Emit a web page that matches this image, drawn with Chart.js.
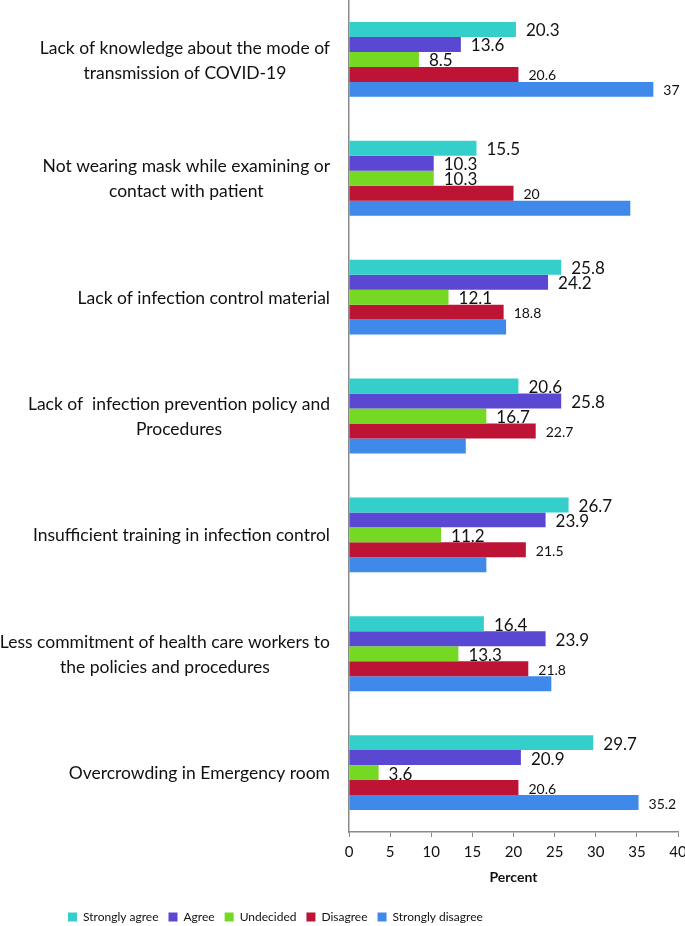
<!DOCTYPE html>
<html>
<head>
<meta charset="utf-8">
<title>Barriers to infection control</title>
<script src="https://cdn.jsdelivr.net/npm/chart.js@4/dist/chart.umd.min.js"></script>
<style>
  html, body { margin: 0; padding: 0; background: #fff; }
  #wrap { width: 685px; height: 926px; }
</style>
</head>
<body>
<div id="wrap"><canvas id="barChart"></canvas></div>
<script>
// categories (multi-line labels as in the figure)
const categories = [
  ['Lack of knowledge about the mode of', 'transmission of COVID-19'],
  ['Not wearing mask while examining or', 'contact with patient'],
  ['Lack of infection control material'],
  ['Lack of  infection prevention policy and', 'Procedures'],
  ['Insufficient training in infection control'],
  ['Less commitment of health care workers to', 'the policies and procedures'],
  ['Overcrowding in Emergency room']
];

const seriesNames = ['Strongly agree', 'Agree', 'Undecided', 'Disagree', 'Strongly disagree'];

// values (percent)
const stronglyAgree = [20.3, 15.5, 25.8, 20.6, 26.7, 16.4, 29.7];
const agree = [13.6, 10.3, 24.2, 25.8, 23.9, 23.9, 20.9];
const undecided = [8.5, 10.3, 12.1, 16.7, 11.2, 13.3, 3.6];
const disagree = [20.6, 20, 18.8, 22.7, 21.5, 21.8, 20.6];
const stronglyDisagree = [37, 34.2, 19.1, 14.2, 16.7, 24.6, 35.2];

// which bars carry a printed value (the figure leaves some unlabeled)
const showLabel = [
  [true, true, true, true, true, true, true],
  [true, true, true, true, true, true, true],
  [true, true, true, true, true, true, true],
  [true, true, true, true, true, true, true],
  [true, false, false, false, false, false, true]
];

const xTicks = [0, 5, 10, 15, 20, 25, 30, 35, 40];

const colors = ['#35CFCB', '#5A47D2', '#75D823', '#BD1335', '#3E89EA'];
const labelSizes = [17, 17, 17, 14, 14];
const FONT = 'Lato, "Open Sans", sans-serif';

// draws the value text right of each bar
const valueLabels = {
  id: 'valueLabels',
  afterDatasetsDraw(chart) {
    const ctx = chart.ctx;
    ctx.save();
    ctx.fillStyle = '#111';
    ctx.textAlign = 'left';
    ctx.textBaseline = 'middle';
    chart.data.datasets.forEach((ds, i) => {
      const meta = chart.getDatasetMeta(i);
      ctx.font = labelSizes[i] + 'px ' + FONT;
      meta.data.forEach((bar, j) => {
        if (!showLabel[i][j]) return;
        ctx.fillText(String(ds.data[j]), bar.x + 10, bar.y + 1.5);
      });
    });
    ctx.restore();
  }
};

// category labels: block right-aligned to the axis, lines centred inside the block (Excel style)
const categoryLabels = {
  id: 'categoryLabels',
  afterDraw(chart) {
    const ctx = chart.ctx;
    const yScale = chart.scales.y;
    const right = yScale.right - 19;
    const lineH = 25;
    ctx.save();
    ctx.fillStyle = '#111';
    ctx.font = '17.5px ' + FONT;
    ctx.textAlign = 'center';
    ctx.textBaseline = 'middle';
    chart.data.labels.forEach((lines, i) => {
      const y = yScale.getPixelForValue(i);
      const w = Math.max(...lines.map(t => ctx.measureText(t).width));
      const cx = right - w / 2;
      lines.forEach((t, k) => {
        ctx.fillText(t, cx, y + (k - (lines.length - 1) / 2) * lineH + 1);
      });
    });
    ctx.restore();
  }
};

// legend in the figure sits left of centre and a little lower
const legendShift = {
  id: 'legendShift',
  afterLayout(chart) {
    chart.legend.left = 58;
    chart.legend.top += 7;
    chart.legend.bottom += 7;
  }
};

const allSeries = [stronglyAgree, agree, undecided, disagree, stronglyDisagree];

const ctx = document.getElementById('barChart').getContext('2d');
new Chart(ctx, {
  type: 'bar',
  data: {
    labels: categories,
    datasets: seriesNames.map((name, i) => ({
      label: name,
      data: allSeries[i],
      backgroundColor: colors[i],
      borderWidth: 0,
      categoryPercentage: 0.63,
      barPercentage: 1.0
    }))
  },
  options: {
    indexAxis: 'y',
    responsive: true,
    maintainAspectRatio: false,
    animation: false,
    layout: {
      padding: { left: 0, right: 0, top: 0, bottom: 0 }
    },
    plugins: {
      tooltip: { enabled: false },
      legend: {
        position: 'bottom',
        align: 'start',
        labels: {
          boxWidth: 9,
          boxHeight: 9,
          padding: 10,
          color: '#111',
          font: { size: 12, family: FONT }
        }
      }
    },
    scales: {
      y: {
        grid: { display: false, drawTicks: false },
        border: { display: true, color: '#8a8a8a', width: 1.5 },
        ticks: { display: false },
        afterFit(scale) {
          scale.width = 349; // axis sits at x = 349
          scale.paddingTop = 0;
          scale.paddingBottom = 0;
        }
      },
      x: {
        min: 0,
        max: 40,
        afterBuildTicks(scale) {
          scale.ticks = xTicks.map(v => ({ value: v }));
        },
        grid: {
          drawOnChartArea: false,
          drawTicks: true,
          tickLength: 5,
          color: '#8a8a8a'
        },
        border: { display: true, color: '#8a8a8a', width: 1.5 },
        ticks: {
          padding: 6,
          color: '#111',
          font: { size: 15, family: FONT }
        },
        title: {
          display: true,
          text: 'Percent',
          color: '#111',
          padding: { top: 0, bottom: 8.5 },
          font: { size: 14, weight: 'bold', family: FONT }
        },
        afterFit(scale) {
          scale.height = 62;
          scale.paddingRight = 7;
        }
      }
    }
  },
  plugins: [valueLabels, categoryLabels, legendShift]
});
</script>
</body>
</html>
